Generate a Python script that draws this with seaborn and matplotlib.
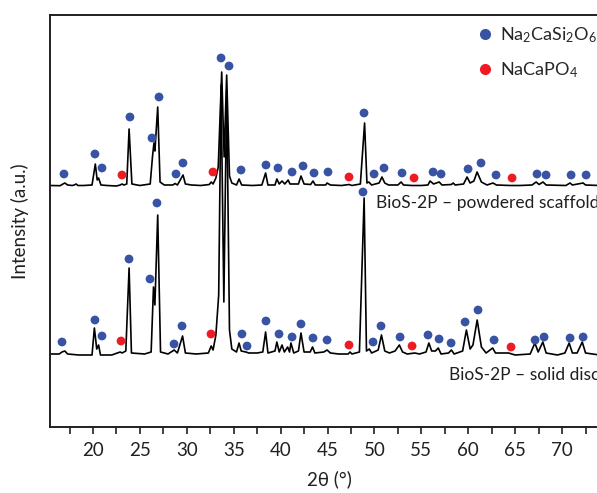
import numpy as np
import pandas as pd
import matplotlib
matplotlib.use('Agg')
import matplotlib.pyplot as plt
from matplotlib.lines import Line2D
from matplotlib.ticker import MultipleLocator
import seaborn as sns

sns.set_style('ticks')
plt.rcParams['font.family'] = ['Lato', 'DejaVu Sans']
plt.rcParams['mathtext.fontset'] = 'custom'
plt.rcParams['mathtext.rm'] = 'Lato'
plt.rcParams['mathtext.default'] = 'regular'

# --- pattern vertices (2theta, height above own baseline)
tt_top = [15.4, 16.5, 16.8, 17.0, 17.3, 17.8, 18.0, 18.2, 18.4, 19.0, 19.9, 20.25, 20.45, 20.6, 20.85,
          21.5, 22.5, 22.9, 23.1, 23.3, 23.6, 23.85, 24.15, 25.0, 26.1, 26.35, 26.5, 26.6, 26.9, 27.15,
          27.6, 28.5, 28.75, 29.0, 29.6, 29.85, 30.5, 31.5, 32.4, 32.6, 32.8, 33.1, 33.35, 33.72, 33.98,
          34.25, 34.55, 34.8, 35.3, 35.57, 35.85, 37.0, 38.0, 38.4, 38.65, 39.4, 39.6, 39.85, 40.15, 40.45,
          40.8, 41.0, 41.9, 42.17, 42.5, 43.2, 43.45, 43.7, 44.8, 44.95, 45.3, 46.5, 47.3, 47.6, 48.5,
          48.95, 49.2, 49.4, 49.7, 50.5, 50.8, 51.1, 51.5, 52.5, 52.84, 53.1, 54.0, 55.0, 55.7, 55.93,
          56.3, 56.9, 57.2, 58.2, 58.4, 58.6, 59.5, 59.87, 60.2, 60.6, 60.94, 61.4, 62.0, 62.64, 63.0,
          64.5, 65.5, 66.8, 67.23, 67.55, 67.97, 68.3, 70.4, 70.85, 71.1, 72.24, 72.5, 74.0, 75.0]
h_top = [0.5, 0.3, 2, 3, 1, 0.5, 1, 2, 0.5, 0.5, 1, 22, 6, 8, 1,
         0.5, 0, 1, 2, 1, 2, 57, 2, 0.5, 2, 30, 43, 35, 79, 4,
         1, 1, 2.5, 1, 11, 2, 1, 0.5, 1.5, 4, 2, 8, 19, 114, 29,
         111, 10, 3, 1, 7, 1, 0.5, 1, 13, 1, 1, 7, 2, 5, 2,
         6, 2, 2, 10, 2, 1.5, 5, 1, 1, 3, 1, 0.5, 1.5, 0.5, 2,
         63, 3, 4, 1, 3, 9, 3, 1, 1, 4, 1, 0.5, 0.5, 1, 5,
         2, 4, 1, 1.5, 3, 1, 2, 9, 3, 5, 14, 4, 1, 3, 1,
         0.5, 0.5, 1, 4, 1.5, 4, 1, 0.5, 3, 1, 3, 1, 0.5, 0.5]

tt_bot = [15.4, 16.4, 16.7, 17.0, 17.3, 18.5, 19.9, 20.15, 20.4, 20.6, 20.8, 22.0, 22.9, 23.1, 23.5,
          23.85, 24.1, 25.5, 26.2, 26.45, 26.6, 26.9, 27.2, 28.0, 28.65, 29.0, 29.55, 29.85, 31.0, 32.3,
          32.6, 32.8, 33.1, 33.4, 33.65, 33.95, 34.25, 34.55, 34.8, 35.3, 35.57, 35.8, 36.3, 36.6, 37.5,
          38.1, 38.4, 38.65, 39.4, 39.6, 39.85, 40.15, 40.4, 40.75, 40.95, 41.1, 41.4, 41.9, 42.17, 42.5,
          43.15, 43.4, 43.65, 44.6, 44.95, 45.3, 46.2, 47.2, 47.4, 47.6, 48.4, 48.9, 49.15, 49.45, 49.7,
          50.4, 50.75, 51.1, 51.6, 52.2, 52.65, 53.0, 53.5, 54.3, 54.8, 55.5, 55.8, 56.1, 56.5, 56.8,
          57.1, 57.9, 58.2, 58.5, 59.4, 59.8, 60.2, 60.5, 60.95, 61.4, 61.9, 62.6, 62.9, 63.5, 64.3,
          65.0, 66.6, 67.1, 67.45, 67.95, 68.3, 69.5, 70.3, 70.75, 71.1, 71.6, 72.15, 72.5, 74.0, 75.0]
h_bot = [1, 1, 3, 4, 1, 0, 0, 27, 6, 10, 0, 0, 3, 2, 4,
         87, 2, 1, 3, 68, 50, 140, 3, 1, 5, 2, 19, 2, 1, 2,
         9, 5, 20, 60, 270, 53, 265, 25, 6, 3, 12, 4, 3, 2, 2,
         3, 23, 2, 4, 13, 3, 10, 3, 8, 3, 12, 2, 4, 22, 3,
         3, 8, 2, 3, 5, 2, 1, 1, 3, 1, 3, 157, 4, 6, 2,
         5, 20, 4, 2, 4, 10, 3, 1, 2, 1, 3, 12, 4, 4, 7,
         1, 2, 5, 1, 4, 25, 6, 10, 35, 8, 2, 7, 2, 2, 2,
         0, 1, 12, 3, 13, 2, 0, 2, 12, 2, 2, 13, 2, 0, 0]

offset_top = 241
offset_bot = 72

# --- phase markers (2theta, intensity)
si_top_tt = [16.91, 20.21, 20.96, 23.94, 26.29, 27.04, 28.85, 29.59, 33.65, 34.50, 35.78, 38.44, 39.72,
             41.22, 42.39, 43.56, 45.05, 48.89, 49.96, 51.02, 52.94, 56.25, 57.10, 59.98, 61.36, 62.96,
             67.33, 68.29, 70.96, 72.56]
si_top_i = [253, 273, 259, 310, 289, 330, 253, 264, 369, 361, 257, 262, 259,
            255, 261, 254, 255, 314, 253, 259, 254, 255, 253, 258, 264, 252,
            253, 252, 252, 252]
p_top_tt = [23.09, 32.79, 47.29, 54.22, 64.67]
p_top_i = [252, 255, 250, 249, 249]

si_bot_tt = [16.70, 20.21, 20.96, 23.84, 26.08, 26.82, 28.64, 29.49, 35.88, 36.42, 38.44, 39.83, 41.22,
             42.17, 43.45, 44.95, 48.78, 49.85, 50.70, 52.73, 55.71, 56.89, 58.17, 59.66, 61.04, 62.75,
             67.12, 68.08, 70.85, 72.24]
si_bot_i = [85, 107, 91, 168, 148, 224, 83, 101, 93, 81, 106, 93, 90,
            103, 89, 87, 235, 85, 101, 90, 92, 88, 84, 105, 117, 87,
            87, 90, 89, 90]
p_bot_tt = [22.99, 32.58, 47.29, 54.01, 64.56]
p_bot_i = [86, 93, 82, 81, 80]

phase_labels = [r'Na$_2$CaSi$_2$O$_6$', r'NaCaPO$_4$']
phase_colors = ['#3953a4', '#ed1c24']
sample_labels = ['BioS-2P \u2013 powdered scaffold', 'BioS-2P \u2013 solid disc']
xtick_vals = [20, 25, 30, 35, 40, 45, 50, 55, 60, 65, 70]

markers = pd.DataFrame({
    'tt': si_top_tt + p_top_tt + si_bot_tt + p_bot_tt,
    'i': si_top_i + p_top_i + si_bot_i + p_bot_i,
    'phase': [phase_labels[0]] * len(si_top_tt) + [phase_labels[1]] * len(p_top_tt)
             + [phase_labels[0]] * len(si_bot_tt) + [phase_labels[1]] * len(p_bot_tt),
})

fig = plt.figure(figsize=(5.97, 4.93), dpi=100)
ax = fig.add_axes([50 / 597, 66 / 493, 559 / 597, 412 / 493])

sns.lineplot(x=tt_top, y=np.array(h_top) + offset_top, ax=ax, color='black', lw=1.2,
             sort=False, estimator=None)
sns.lineplot(x=tt_bot, y=np.array(h_bot) + offset_bot, ax=ax, color='black', lw=1.2,
             sort=False, estimator=None)
sns.scatterplot(data=markers, x='tt', y='i', hue='phase', palette=phase_colors, s=40,
                linewidth=0, ax=ax, legend=False, zorder=3)

ax.text(50.17, 224, sample_labels[0], fontsize=12.5, va='center', ha='left', color='#231f20')
ax.text(57.95, 52, sample_labels[1], fontsize=12.5, va='center', ha='left', color='#231f20')

ax.set_xlim(15.42, 75.0)
ax.set_ylim(0, 412)
ax.set_yticks([])
ax.set_xticks(xtick_vals)
ax.xaxis.set_minor_locator(MultipleLocator(2.5))
ax.tick_params(axis='x', which='both', direction='out', length=5, width=1.2, color='#231f20')
ax.tick_params(axis='x', which='major', labelsize=13.5, pad=6, labelcolor='#231f20')
for sp in ax.spines.values():
    sp.set_linewidth(1.4)
    sp.set_color('#231f20')
ax.set_xlabel('2\u03b8 (\u00b0)', fontsize=13.5, color='#231f20', labelpad=8)
ax.set_ylabel('Intensity (a.u.)', fontsize=13.5, color='#231f20', labelpad=15)

handles = [Line2D([], [], ls='none', marker='o', ms=8, mec='none', mfc=c) for c in phase_colors]
fig.legend(handles, phase_labels, loc='upper left', bbox_to_anchor=(480 / 597, 1 - 25 / 493),
           frameon=False, fontsize=13, handlelength=0.6, handletextpad=0.5, labelspacing=0.85,
           borderpad=0, borderaxespad=0)

fig.savefig('out.png', dpi=100)
